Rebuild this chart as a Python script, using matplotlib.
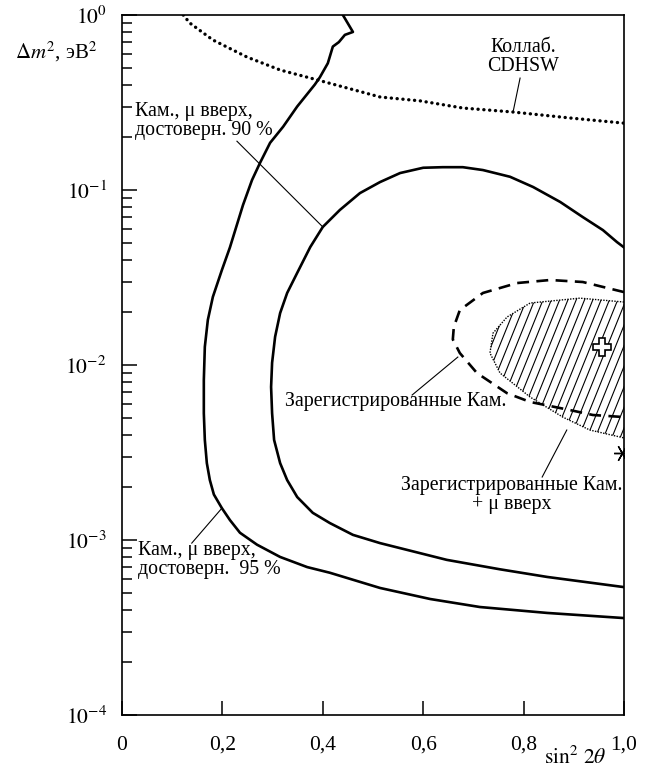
import numpy as np
import matplotlib
matplotlib.use("Agg")
import matplotlib.pyplot as plt
from matplotlib.patches import Polygon
from matplotlib.collections import LineCollection
from matplotlib.ticker import FixedLocator, LogLocator, NullFormatter

plt.rcParams['font.family'] = ['Liberation Serif', 'DejaVu Serif']
plt.rcParams['mathtext.fontset'] = 'stix'

FS = 14.3
TFS = 15.5

# Kamiokande + upward mu, 95 % CL (solid, outer)
cl95_x = [0.440, 0.460, 0.444, 0.432, 0.420, 0.410, 0.394, 0.384, 0.349, 0.321, 0.295,
          0.275, 0.259, 0.241, 0.215, 0.199, 0.181, 0.171, 0.165, 0.163, 0.163, 0.165,
          0.169, 0.175, 0.183, 0.199, 0.215, 0.235, 0.269, 0.315, 0.369, 0.414, 0.514,
          0.614, 0.713, 0.847, 1.0]
cl95_y = [1.0, 0.80, 0.77, 0.70, 0.66, 0.53, 0.44, 0.40, 0.30, 0.23, 0.186,
          0.143, 0.114, 0.082, 0.047, 0.0349, 0.0245, 0.0181, 0.0127, 0.0082, 0.0053, 0.00373,
          0.00275, 0.0022, 0.00182, 0.00152, 0.0013, 0.0011, 0.00094, 0.0008, 0.0007, 0.00065,
          0.000532, 0.00046, 0.000414, 0.000383, 0.000358]

# Kamiokande + upward mu, 90 % CL (solid, inner)
cl90_x = [1.0, 0.986, 0.958, 0.918, 0.873, 0.819, 0.773, 0.719, 0.679, 0.639, 0.600,
          0.554, 0.514, 0.474, 0.434, 0.400, 0.375, 0.349, 0.329, 0.315, 0.305, 0.299,
          0.297, 0.299, 0.303, 0.315, 0.329, 0.349, 0.380, 0.414, 0.460, 0.514, 0.647,
          0.753, 0.847, 1.0]
cl90_y = [0.047, 0.0504, 0.059, 0.070, 0.0854, 0.104, 0.119, 0.130, 0.135, 0.135, 0.134,
          0.125, 0.111, 0.096, 0.0769, 0.0615, 0.0472, 0.0336, 0.0258, 0.0198, 0.0145, 0.0103,
          0.00749, 0.0053, 0.00373, 0.00275, 0.0022, 0.00176, 0.00143, 0.00125, 0.00107,
          0.00096, 0.00077, 0.00068, 0.000615, 0.000538]

# contained Kamiokande events (dashed)
cont_x = [1.0, 0.918, 0.853, 0.787, 0.719, 0.673, 0.661, 0.659, 0.673, 0.707,
          0.767, 0.813, 0.892, 0.938, 1.0]
cont_y = [0.0261, 0.0298, 0.0306, 0.0294, 0.0258, 0.0206, 0.0165, 0.0140, 0.0117,
          0.0090, 0.0069, 0.00615, 0.00553, 0.00518, 0.00504]

# contained + upward mu (hatched area)
comb_x = [1.0, 0.912, 0.813, 0.767, 0.739, 0.733, 0.753, 0.813, 0.878, 0.932, 1.0]
comb_y = [0.0229, 0.0241, 0.0226, 0.0188, 0.0152, 0.0117, 0.0090, 0.00656, 0.00504,
          0.00425, 0.00383]

# CDHSW limit (dotted)
cdhsw_x = [0.122, 0.135, 0.181, 0.249, 0.315, 0.390, 0.448, 0.514, 0.594, 0.679, 0.779,
           0.892, 1.0]
cdhsw_y = [1.0, 0.90, 0.72, 0.575, 0.485, 0.425, 0.383, 0.34, 0.323, 0.294, 0.279,
           0.258, 0.241]

best_fit = (0.956, 0.0127)
best_fit_comb = (0.996, 0.00314)

x_ticks = [0, 0.2, 0.4, 0.6, 0.8, 1.0]
x_tick_labels = ['0', '0,2', '0,4', '0,6', '0,8', '1,0']
y_ticks = [1e-4, 1e-3, 1e-2, 1e-1, 1e0]
y_tick_labels = [r'$10^{-4}$', r'$10^{-3}$', r'$10^{-2}$', r'$10^{-1}$', r'$10^{0}$']

fig = plt.figure(figsize=(6.53, 7.81), dpi=100)
ax = fig.add_axes([122 / 653, 1 - 715 / 781, 502 / 653, 700 / 781])
ax.set_yscale('log')
ax.set_xlim(0, 1.0)
ax.set_ylim(1e-4, 1e0)

ax.plot(cl95_x, cl95_y, color='black', lw=1.9, solid_joinstyle='round')
ax.plot(cl90_x, cl90_y, color='black', lw=1.9, solid_joinstyle='round')
ax.plot(cont_x, cont_y, color='black', lw=1.9, dashes=(4.5, 2.8))
ax.plot(cdhsw_x, cdhsw_y, color='black', lw=2.4, linestyle=(0, (0.05, 1.7)),
        dash_capstyle='round')

# hatched region: steep lines clipped to the polygon
region = Polygon(np.column_stack([comb_x, comb_y]), closed=True, fill=False,
                 edgecolor='none', transform=ax.transData)
ax.add_patch(region)
ang = np.deg2rad(68)
dx = np.cos(ang) / np.sin(ang) * 700 / 502
offs = np.arange(-1.0, 1.2, 8.3 / 502)
segs = [[(c, 0), (c + dx, 1)] for c in offs]
hatch = LineCollection(segs, colors='black', linewidths=0.8, transform=ax.transAxes)
hatch.set_clip_path(region)
ax.add_collection(hatch)
ax.plot(comb_x, comb_y, color='black', lw=1.0, linestyle=(0, (1, 1)))

ax.plot(*best_fit, marker='P', ms=13, mfc='white', mec='black', mew=1.2)
ax.plot(*best_fit_comb, marker=(6, 2, 90), ms=12, color='black', mew=1.0)

# labels with leader lines
ax.text(0.799, 0.575, 'Коллаб.\nCDHSW', ha='center', va='center', fontsize=FS,
        linespacing=0.95)
ax.plot([0.793, 0.779], [0.436, 0.279], color='black', lw=0.8)

ax.text(0.026, 0.248, 'Кам., μ вверх,\nдостоверн. 90 %', ha='left', va='center',
        fontsize=FS, linespacing=0.95)
ax.plot([0.229, 0.400], [0.19, 0.0615], color='black', lw=0.8)

ax.text(0.546, 0.00615, 'Зарегистрированные Кам.', ha='center', va='center', fontsize=FS)
ax.plot([0.578, 0.669], [0.00674, 0.0111], color='black', lw=0.8)

ax.text(0.777, 0.00181, 'Зарегистрированные Кам.\n+ μ вверх', ha='center', va='center',
        fontsize=FS, linespacing=0.95)
ax.plot([0.837, 0.886], [0.00229, 0.00425], color='black', lw=0.8)

ax.text(0.032, 0.00077, 'Кам., μ вверх,\nдостоверн.  95 %', ha='left', va='center',
        fontsize=FS, linespacing=0.95)
ax.plot([0.139, 0.199], [0.00096, 0.00152], color='black', lw=0.8)

# axes styling
for s in ax.spines.values():
    s.set_linewidth(1.2)
ax.xaxis.set_major_locator(FixedLocator(x_ticks))
ax.set_xticklabels(x_tick_labels)
ax.yaxis.set_major_locator(FixedLocator(y_ticks))
ax.set_yticklabels(y_tick_labels)
ax.yaxis.set_minor_locator(LogLocator(base=10, subs=np.arange(2, 10)))
ax.yaxis.set_minor_formatter(NullFormatter())
ax.tick_params(which='both', direction='in', top=False, right=False, width=1.1,
               labelsize=TFS)
ax.tick_params(axis='x', which='major', length=10, pad=15)
ax.tick_params(axis='y', which='major', length=11, pad=11)
ax.tick_params(axis='y', which='minor', length=7)

fig.text(15 / 653, 1 - 52 / 781, r'$\Delta m^2$, эВ$^2$', ha='left', va='center',
         fontsize=15)
fig.text(575 / 653, 1 - 758 / 781, r'$\sin^2\,2\theta$', ha='center', va='center',
         fontsize=15.5)

fig.savefig('out.png', dpi=100)
